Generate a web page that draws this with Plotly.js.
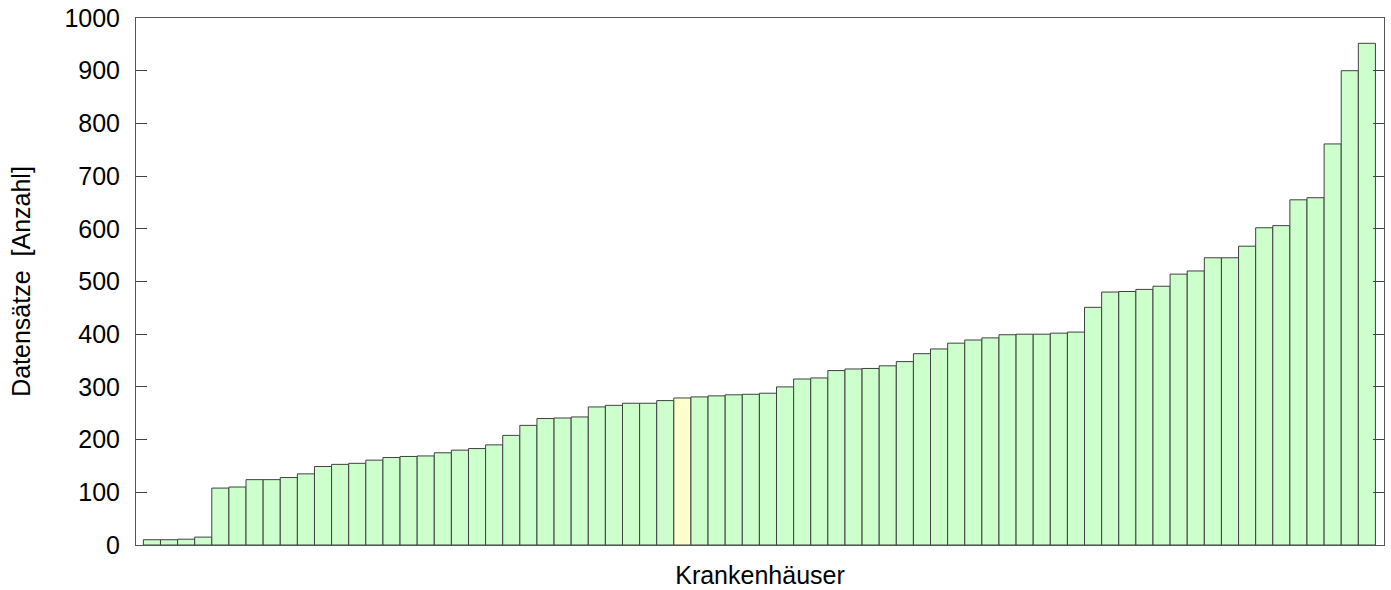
<!DOCTYPE html>
<html>
<head>
<meta charset="utf-8">
<script src="https://cdn.plot.ly/plotly-3.0.1.min.js"></script>
<style>html,body{margin:0;padding:0;background:#fff;}#chart{width:1391px;height:590px;}</style>
</head>
<body>
<div id="chart"></div>
<script>
const hospitals = Array.from({length: 72}, (_, i) => i + 1);
const records = [10, 10, 11, 15, 108, 110, 124, 124, 128, 135, 149, 153, 155, 161, 166, 168, 169, 175, 180, 183,
  190, 208, 227, 240, 241, 243, 262, 265, 269, 269, 274, 279, 281, 283, 285, 286, 288, 300, 315, 317,
  331, 334, 335, 340, 348, 363, 372, 383, 389, 393, 399, 400, 400, 402, 404, 451, 480, 481, 485, 491,
  514, 520, 545, 545, 567, 602, 606, 655, 659, 761, 900, 952];
const highlightIndex = 31;
const yTicks = [0, 100, 200, 300, 400, 500, 600, 700, 800, 900, 1000];

const colors = records.map((v, i) => i === highlightIndex ? '#ffffcc' : '#ccffcc');

const trace = {
  type: 'bar',
  x: hospitals,
  y: records,
  width: 1,
  marker: {color: colors, line: {color: '#404040', width: 1}},
  hoverinfo: 'y'
};

const fontFam = '"Liberation Sans", Arial, sans-serif';
const layout = {
  width: 1391, height: 590,
  margin: {l: 136, r: 7, t: 18, b: 45},
  paper_bgcolor: '#fff', plot_bgcolor: '#fff',
  bargap: 0,
  showlegend: false,
  font: {family: fontFam, size: 22, color: '#000'},
  xaxis: {
    range: [0.07, 73.0],
    showticklabels: false, ticks: '', showgrid: false, zeroline: false,
    showline: true, mirror: true, linecolor: '#555', linewidth: 1,
    title: {text: 'Krankenhäuser', font: {family: fontFam, size: 25, color: '#000'}, standoff: 21}
  },
  yaxis: {
    range: [0, 1000],
    tickvals: yTicks, ticktext: yTicks.map(String),
    ticks: 'inside', ticklen: 11, tickcolor: '#444', tickwidth: 1,
    showgrid: false, zeroline: false,
    showline: true, mirror: 'ticks', linecolor: '#555', linewidth: 1,
    tickfont: {family: fontFam, size: 25, color: '#000'},
    ticklabelstandoff: 10,
    title: {text: 'Datensätze  [Anzahl]', font: {family: fontFam, size: 25, color: '#000'}, standoff: 26}
  }
};

Plotly.newPlot('chart', [trace], layout, {displayModeBar: false, staticPlot: true});
</script>
</body>
</html>
